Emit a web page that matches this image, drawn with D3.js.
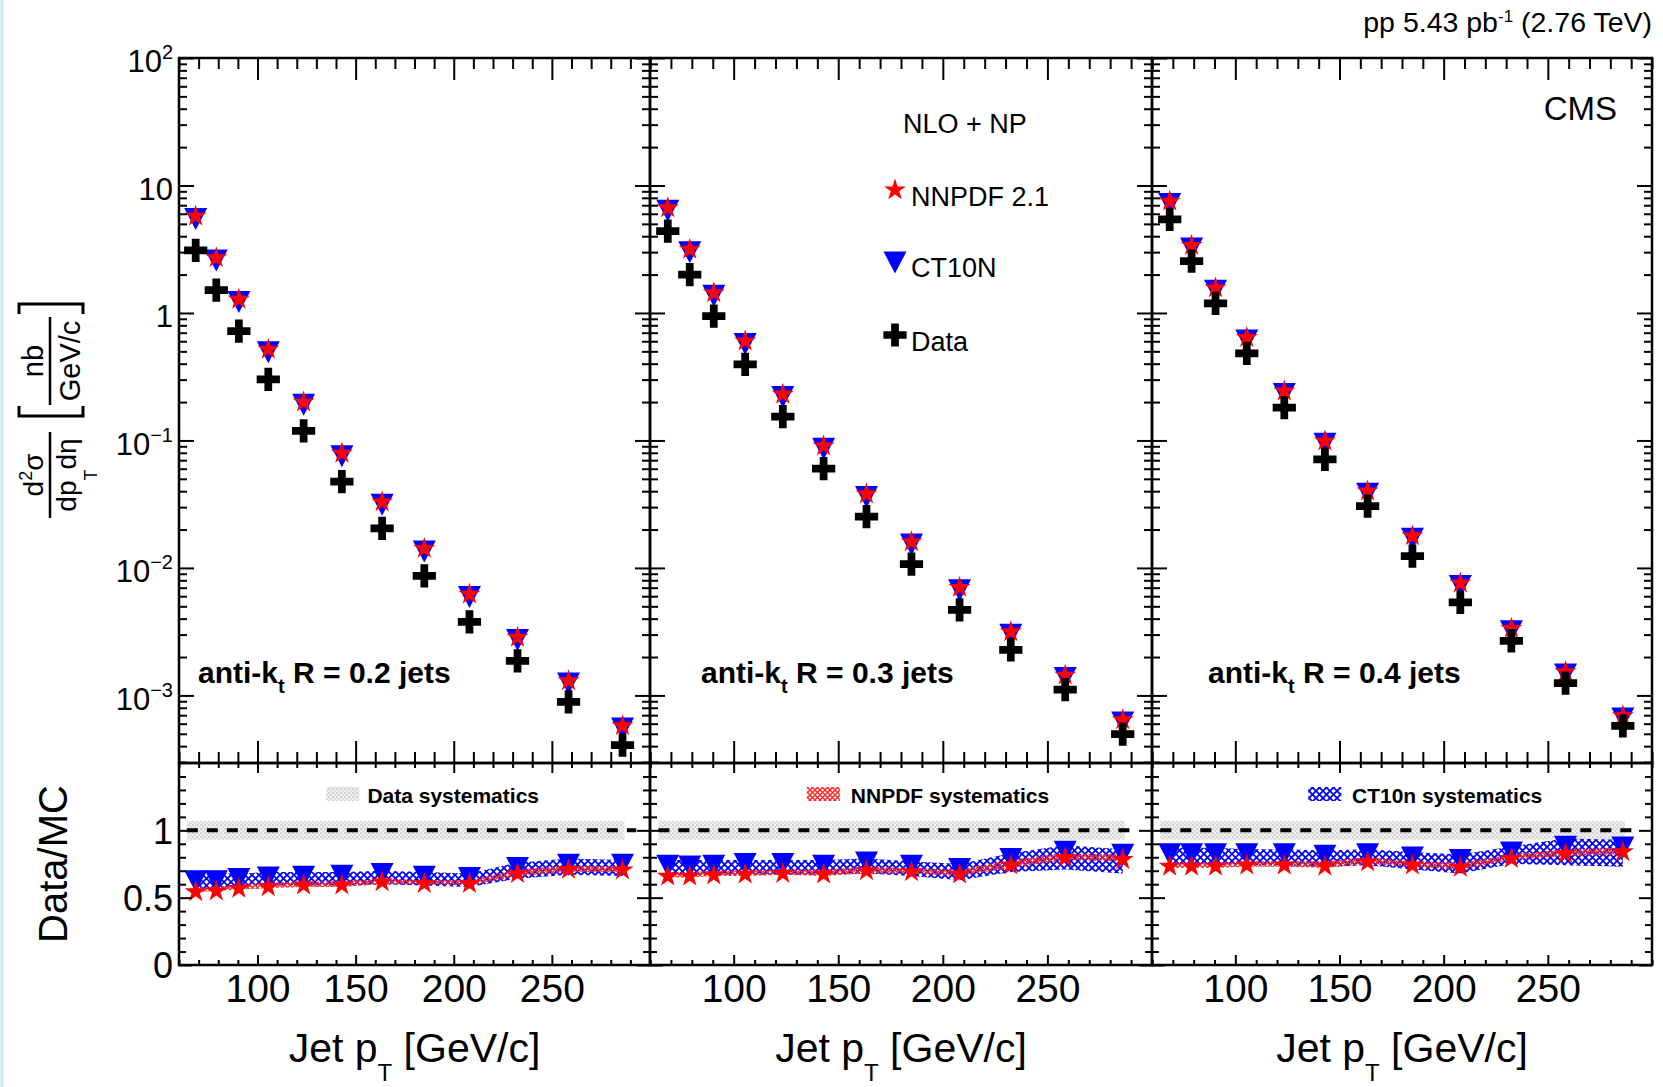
<!DOCTYPE html>
<html>

<head>
  <meta http-equiv="content-type" content="text/html; charset=utf-8">
  <title>Inclusive jet cross sections, pp 2.76 TeV</title>
  <style>
    body { margin: 0; background: #fff; }
    svg#canvas { display: block; font-family: "Liberation Sans", Arial, Helvetica, sans-serif; }
  </style>
</head>

<body>
  <svg id="canvas"></svg>

  <script src="https://d3js.org/d3.v7.min.js"></script>
  <script>

    // ---- values ----
    const ptCenters = [68.5, 79, 90.5, 105.5, 123.5, 143, 163.5, 185, 208, 232.5, 258.5, 286];
    const radii = ["0.2", "0.3", "0.4"];

    // upper panels: d2sigma/dpT deta [nb/(GeV/c)]
    const dataXsec = [
      [3.10, 1.51, 0.72, 0.301, 0.119, 0.0475, 0.0204, 0.00865, 0.00378, 0.00187, 0.000891, 0.000407],
      [4.38, 2.00, 0.944, 0.395, 0.154, 0.0601, 0.0253, 0.0107, 0.00469, 0.00228, 0.00111, 0.000498],
      [5.41, 2.55, 1.19, 0.482, 0.181, 0.0711, 0.0306, 0.0124, 0.00536, 0.00268, 0.00125, 0.000578]
    ];
    const nnpdfXsec = [
      [5.74, 2.71, 1.28, 0.518, 0.200, 0.0792, 0.0329, 0.0142, 0.00622, 0.00285, 0.00130, 0.000578],
      [6.67, 3.15, 1.44, 0.601, 0.230, 0.0904, 0.0379, 0.0160, 0.00702, 0.00315, 0.00144, 0.000644],
      [7.52, 3.38, 1.57, 0.640, 0.244, 0.0989, 0.0401, 0.0178, 0.00759, 0.00335, 0.00153, 0.000692]
    ];
    const ct10Xsec = [
      [5.50, 2.60, 1.23, 0.497, 0.192, 0.0760, 0.0316, 0.0136, 0.00597, 0.00274, 0.00125, 0.000555],
      [6.40, 3.02, 1.38, 0.577, 0.221, 0.0868, 0.0364, 0.0154, 0.00674, 0.00302, 0.00138, 0.000618],
      [7.22, 3.24, 1.51, 0.614, 0.234, 0.0949, 0.0385, 0.0171, 0.00729, 0.00322, 0.00147, 0.000664]
    ];

    // lower panels: Data/MC
    const ratioNNPDF = [
      [0.543, 0.548, 0.568, 0.580, 0.593, 0.593, 0.617, 0.605, 0.605, 0.679, 0.709, 0.704],
      [0.659, 0.659, 0.667, 0.674, 0.679, 0.674, 0.699, 0.691, 0.674, 0.741, 0.798, 0.783],
      [0.733, 0.733, 0.733, 0.741, 0.741, 0.733, 0.765, 0.741, 0.724, 0.790, 0.827, 0.840]
    ];
    const ratioCT10 = [
      [0.625, 0.625, 0.642, 0.654, 0.659, 0.667, 0.679, 0.659, 0.650, 0.724, 0.748, 0.748],
      [0.741, 0.736, 0.741, 0.753, 0.753, 0.741, 0.765, 0.741, 0.716, 0.790, 0.844, 0.822],
      [0.827, 0.827, 0.827, 0.827, 0.827, 0.815, 0.827, 0.802, 0.783, 0.840, 0.881, 0.877]
    ];
    const ct10SysLo = [
      [0.57, 0.57, 0.58, 0.59, 0.59, 0.59, 0.60, 0.59, 0.58, 0.64, 0.67, 0.66],
      [0.67, 0.67, 0.67, 0.67, 0.67, 0.67, 0.68, 0.66, 0.63, 0.69, 0.71, 0.68],
      [0.75, 0.75, 0.75, 0.74, 0.74, 0.73, 0.74, 0.71, 0.68, 0.75, 0.74, 0.73]
    ];
    const ct10SysHi = [
      [0.68, 0.68, 0.68, 0.69, 0.69, 0.69, 0.70, 0.69, 0.68, 0.76, 0.79, 0.78],
      [0.78, 0.78, 0.78, 0.78, 0.78, 0.78, 0.79, 0.77, 0.75, 0.83, 0.89, 0.86],
      [0.87, 0.87, 0.87, 0.86, 0.86, 0.85, 0.86, 0.84, 0.82, 0.88, 0.94, 0.93]
    ];
    const nnpdfSysLo = [
      [0.54, 0.55, 0.56, 0.57, 0.58, 0.58, 0.60, 0.60, 0.59, 0.66, 0.69, 0.69],
      [0.65, 0.65, 0.66, 0.66, 0.67, 0.66, 0.68, 0.68, 0.66, 0.72, 0.78, 0.77],
      [0.72, 0.72, 0.72, 0.73, 0.73, 0.72, 0.75, 0.73, 0.71, 0.78, 0.81, 0.82]
    ];
    const nnpdfSysHi = [
      [0.58, 0.58, 0.60, 0.61, 0.62, 0.62, 0.64, 0.63, 0.63, 0.71, 0.74, 0.73],
      [0.69, 0.69, 0.70, 0.70, 0.71, 0.71, 0.73, 0.72, 0.71, 0.78, 0.83, 0.82],
      [0.76, 0.76, 0.76, 0.77, 0.77, 0.77, 0.80, 0.77, 0.76, 0.82, 0.86, 0.87]
    ];
    const dataSysBand = [0.93, 1.07];
    const dataSysRange = [64, 287];
    const unityRange = [64, 293];

    // axes
    const xDomain = [60, 300];
    const xMajorTicks = [100, 150, 200, 250];
    const yUpperDomain = [2.95e-4, 100];
    const yUpperTicks = [1e-3, 1e-2, 1e-1, 1, 10, 100];
    const yUpperLabels = [["10", "\u22123"], ["10", "\u22122"], ["10", "\u22121"], ["1", ""], ["10", ""], ["10", "2"]];
    const yLowerDomain = [0, 1.5];
    const yLowerTicks = [0, 0.5, 1];
    const sysLegend = ["Data systematics", "NNPDF systematics", "CT10n systematics"];

    // ---- layout ----
    const W = 1663, H = 1087;
    const panelX = [[179, 650], [650, 1152], [1152, 1652]];
    const upperY = [58, 763], lowerY = [763, 965];
    const labelOffset = [19, 51, 56];

    const svg = d3.select("svg#canvas").attr("width", W).attr("height", H);
    svg.append("rect").attr("width", W).attr("height", H).attr("fill", "#fff");
    svg.append("rect").attr("width", 4).attr("height", H).attr("fill", "#d8ecf2");

    const defs = svg.append("defs");
    const hatch = (id, color, size, w) => {
      const p = defs.append("pattern").attr("id", id).attr("patternUnits", "userSpaceOnUse")
        .attr("width", size).attr("height", size);
      p.append("path").attr("d", `M0,0L${size},${size}M${size},0L0,${size}`)
        .attr("stroke", color).attr("stroke-width", w).attr("fill", "none");
    };
    hatch("blueHatch", "#0000ff", 7, 1.8);
    hatch("redHatch", "#ff2020", 5, 1.3);
    const dots = defs.append("pattern").attr("id", "dots").attr("patternUnits", "userSpaceOnUse")
      .attr("width", 4).attr("height", 4);
    dots.append("rect").attr("width", 4).attr("height", 4).attr("fill", "#f0f0f0");
    dots.append("rect").attr("width", 2).attr("height", 2).attr("fill", "#d2d2d2");
    dots.append("rect").attr("x", 2).attr("y", 2).attr("width", 2).attr("height", 2).attr("fill", "#dcdcdc");
    const sysFill = ["url(#dots)", "url(#redHatch)", "url(#blueHatch)"];

    const starPath = d3.symbol(d3.symbolStar, 150)();
    const crossPath = d3.symbol(d3.symbolCross, 300)();
    const triPath = "M-11.5,-10.5L11.5,-10.5L0,11.5Z";

    const tickStyle = a => {
      a.select(".domain").remove();
      a.attr("font-family", null).attr("font-size", null);
      a.selectAll(".tick line").attr("stroke", "#000").attr("stroke-width", 2);
    };
    const addAxis = (axis, tx, ty) =>
      svg.append("g").attr("transform", `translate(${tx},${ty})`).call(axis).call(tickStyle);

    radii.forEach((R, i) => {
      const [x0, x1] = panelX[i];
      const x = d3.scaleLinear().domain(xDomain).range([x0, x1]);
      const yu = d3.scaleLog().domain(yUpperDomain).range([upperY[1], upperY[0]]);
      const yl = d3.scaleLinear().domain(yLowerDomain).range([lowerY[1], lowerY[0]]);

      const pts = ptCenters.map((pt, j) => ({
        pt, data: dataXsec[i][j], nn: nnpdfXsec[i][j], ct: ct10Xsec[i][j],
        rn: ratioNNPDF[i][j], rc: ratioCT10[i][j],
        cLo: ct10SysLo[i][j], cHi: ct10SysHi[i][j], nLo: nnpdfSysLo[i][j], nHi: nnpdfSysHi[i][j]
      }));

      // ---- lower panel: bands, unity line, ratio markers ----
      const low = svg.append("g");
      low.append("rect")
        .attr("x", x(dataSysRange[0])).attr("width", x(dataSysRange[1]) - x(dataSysRange[0]))
        .attr("y", yl(dataSysBand[1])).attr("height", yl(dataSysBand[0]) - yl(dataSysBand[1]))
        .attr("fill", "url(#dots)");
      low.append("line")
        .attr("x1", x(unityRange[0])).attr("x2", x(unityRange[1]))
        .attr("y1", yl(1)).attr("y2", yl(1))
        .attr("stroke", "#000").attr("stroke-width", 4).attr("stroke-dasharray", "11,9");
      low.append("path").datum(pts)
        .attr("d", d3.area().x(d => x(d.pt)).y0(d => yl(d.cLo)).y1(d => yl(d.cHi)))
        .attr("fill", "url(#blueHatch)");
      low.append("path").datum(pts)
        .attr("d", d3.area().x(d => x(d.pt)).y0(d => yl(d.nLo)).y1(d => yl(d.nHi)))
        .attr("fill", "url(#redHatch)");
      low.selectAll(".rtri").data(pts).enter().append("path")
        .attr("transform", d => `translate(${x(d.pt)},${yl(d.rc)})`)
        .attr("d", triPath).attr("fill", "#0000ff");
      low.selectAll(".rstar").data(pts).enter().append("path")
        .attr("transform", d => `translate(${x(d.pt)},${yl(d.rn)})`)
        .attr("d", starPath).attr("fill", "#ff0000");

      // systematics legend
      low.append("rect").attr("x", x(135)).attr("y", 787).attr("width", 33).attr("height", 14)
        .attr("fill", sysFill[i]);
      low.append("text").attr("x", x(156)).attr("y", 803)
        .attr("font-size", 21).attr("font-weight", "bold").text(sysLegend[i]);

      // ---- upper panel: spectra ----
      const up = svg.append("g");
      up.selectAll(".tri").data(pts).enter().append("path")
        .attr("transform", d => `translate(${x(d.pt)},${yu(d.ct)})`)
        .attr("d", triPath).attr("fill", "#0000ff");
      up.selectAll(".star").data(pts).enter().append("path")
        .attr("transform", d => `translate(${x(d.pt)},${yu(d.nn)})`)
        .attr("d", starPath).attr("fill", "#ff0000");
      up.selectAll(".cross").data(pts).enter().append("path")
        .attr("transform", d => `translate(${x(d.pt)},${yu(d.data)})`)
        .attr("d", crossPath).attr("fill", "#000");

      const lab = up.append("text").attr("x", x0 + labelOffset[i]).attr("y", 683)
        .attr("font-size", 30).attr("font-weight", "bold");
      lab.append("tspan").text("anti-k");
      lab.append("tspan").attr("dy", 10).attr("font-size", 20).text("t");
      lab.append("tspan").attr("dy", -10).text(` R = ${R} jets`);

      // ---- frames and ticks ----
      const xMinor = d3.range(60, 301, 10).filter(v => !xMajorTicks.includes(v));
      const yMinor = yu.ticks().filter(v => !yUpperTicks.includes(v));
      const ylMinor = d3.range(1, 15).map(v => v / 10).filter(v => !yLowerTicks.includes(v) && v !== 1.5);

      // upper panel
      addAxis(d3.axisBottom(x).tickValues(xMajorTicks).tickSize(-22).tickFormat(""), 0, upperY[1]);
      addAxis(d3.axisBottom(x).tickValues(xMinor).tickSize(-11).tickFormat(""), 0, upperY[1]);
      addAxis(d3.axisTop(x).tickValues(xMajorTicks).tickSize(-22).tickFormat(""), 0, upperY[0]);
      addAxis(d3.axisTop(x).tickValues(xMinor).tickSize(-11).tickFormat(""), 0, upperY[0]);
      addAxis(d3.axisRight(yu).tickValues(yUpperTicks).tickSize(-15).tickFormat(""), x1, 0);
      addAxis(d3.axisRight(yu).tickValues(yMinor).tickSize(-8).tickFormat(""), x1, 0);
      addAxis(d3.axisLeft(yu).tickValues(yMinor).tickSize(-8).tickFormat(""), x0, 0);
      addAxis(d3.axisLeft(yu).tickValues(yUpperTicks).tickSize(-15).tickPadding(6)
        .tickFormat((d, k) => i === 0 ? yUpperLabels[k][0] : ""), x0, 0)
        .call(a => a.selectAll(".tick text").attr("dy", "0.45em").style("font-size", "31px")
          .each(function (d, k) {
            const s = yUpperLabels[k][1];
            if (i === 0 && s) d3.select(this).append("tspan").attr("dy", -13).style("font-size", "20px").text(s);
          }));

      // lower panel
      addAxis(d3.axisTop(x).tickValues(xMajorTicks).tickSize(-10).tickFormat(""), 0, lowerY[0]);
      addAxis(d3.axisTop(x).tickValues(xMinor).tickSize(-5).tickFormat(""), 0, lowerY[0]);
      addAxis(d3.axisBottom(x).tickValues(xMinor).tickSize(-5).tickFormat(""), 0, lowerY[1]);
      addAxis(d3.axisBottom(x).tickValues(xMajorTicks).tickSize(-10).tickPadding(9).tickFormat(d3.format("d")), 0, lowerY[1])
        .call(a => a.selectAll(".tick text").style("font-size", "39px"));
      addAxis(d3.axisRight(yl).tickValues(yLowerTicks).tickSize(-13).tickFormat(""), x1, 0);
      addAxis(d3.axisRight(yl).tickValues(ylMinor).tickSize(-7).tickFormat(""), x1, 0);
      addAxis(d3.axisLeft(yl).tickValues(ylMinor).tickSize(-7).tickFormat(""), x0, 0);
      addAxis(d3.axisLeft(yl).tickValues(yLowerTicks).tickSize(-13).tickPadding(6)
        .tickFormat(d => i === 0 ? d3.format("~g")(d) : ""), x0, 0)
        .call(a => a.selectAll(".tick text").attr("dy", "0.36em").style("font-size", "36px"));

      [upperY, lowerY].forEach(([ya, yb]) => {
        svg.append("rect").attr("x", x0).attr("y", ya).attr("width", x1 - x0).attr("height", yb - ya)
          .attr("fill", "none").attr("stroke", "#000").attr("stroke-width", 2.5);
      });

      // x title
      const xt = svg.append("text").attr("x", (x0 + x1) / 2).attr("y", 1062)
        .attr("text-anchor", "middle").attr("font-size", 41);
      xt.append("tspan").text("Jet p");
      xt.append("tspan").attr("dy", 19).attr("font-size", 24).text("T");
      xt.append("tspan").attr("dy", -19).text(" [GeV/c]");
    });

    // ---- header and legend ----
    const hdr = svg.append("text").attr("x", 1652).attr("y", 32).attr("text-anchor", "end").attr("font-size", 28.5);
    hdr.append("tspan").text("pp 5.43 pb");
    hdr.append("tspan").attr("dy", -10).attr("font-size", 17).text("-1");
    hdr.append("tspan").attr("dy", 10).text(" (2.76 TeV)");

    svg.append("text").attr("x", 1617).attr("y", 120).attr("text-anchor", "end").attr("font-size", 33).text("CMS");

    svg.append("text").attr("x", 903).attr("y", 133).attr("font-size", 27).text("NLO + NP");
    const legend = [
      { label: "NNPDF 2.1", path: starPath, color: "#ff0000", y: 190, ty: 206 },
      { label: "CT10N", path: triPath, color: "#0000ff", y: 262, ty: 277 },
      { label: "Data", path: crossPath, color: "#000", y: 335, ty: 351 }
    ];
    legend.forEach(l => {
      svg.append("path").attr("transform", `translate(895,${l.y})`).attr("d", l.path).attr("fill", l.color);
      svg.append("text").attr("x", 911).attr("y", l.ty).attr("font-size", 27).text(l.label);
    });

    // ---- y titles ----
    const rot = (tx, ty, size) => svg.append("text").attr("transform", `translate(${tx},${ty}) rotate(-90)`)
      .attr("text-anchor", "middle").attr("font-size", size);

    const num1 = rot(43, 475, 28);
    num1.append("tspan").text("d");
    num1.append("tspan").attr("dy", -11).attr("font-size", 18).text("2");
    num1.append("tspan").attr("dy", 11).text("\u03c3");
    const den1 = rot(76, 475, 28);
    den1.append("tspan").text("dp");
    den1.append("tspan").attr("dy", 21).attr("font-size", 18).text("T");
    den1.append("tspan").attr("dy", -21).text("d\u03b7");
    rot(43, 361, 29).text("nb");
    rot(80, 361, 29).text("GeV/c");

    const ink = svg.append("g").attr("fill", "none").attr("stroke", "#000").attr("stroke-width", 2.5);
    ink.append("line").attr("x1", 50).attr("x2", 50).attr("y1", 432).attr("y2", 518);
    ink.append("line").attr("x1", 50).attr("x2", 50).attr("y1", 317).attr("y2", 405);
    ink.append("path").attr("d", "M19,406L19,416L83,416L83,406").attr("stroke-width", 3);
    ink.append("path").attr("d", "M19,314L19,304L83,304L83,314").attr("stroke-width", 3);

    rot(67, 864, 40).text("Data/MC");

  </script>
</body>

</html>
